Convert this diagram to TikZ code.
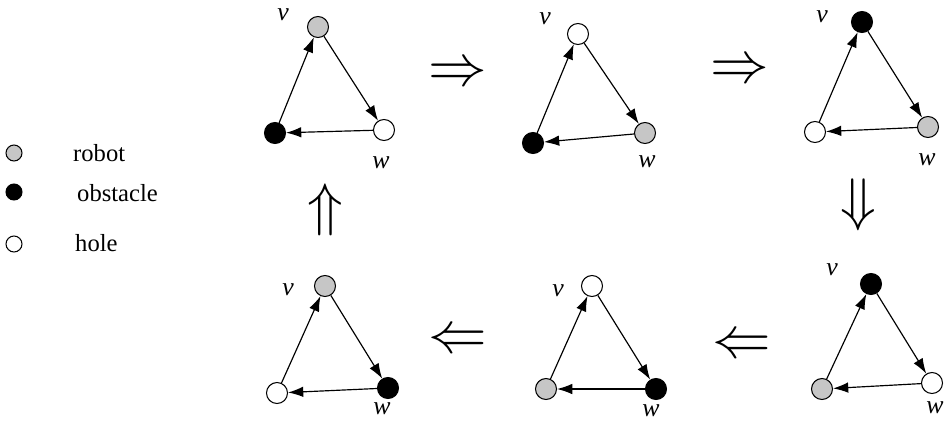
\documentclass[tikz,border=0pt]{standalone}
\usepackage{fontspec}
\setmainfont{Liberation Serif}
\usetikzlibrary{arrows.meta}
\begin{document}
\begin{tikzpicture}[x=0.03cm,y=-0.03cm,
    robot/.style={circle,draw,line width=0.9pt,inner sep=0pt,minimum size=21*0.03cm,fill=gray!45},
    obstacle/.style={circle,draw,line width=0.9pt,inner sep=0pt,minimum size=21*0.03cm,fill=black},
    hole/.style={circle,draw,line width=0.9pt,inner sep=0pt,minimum size=21*0.03cm,fill=white},
    edge/.style={-{Latex[length=13pt,width=9pt]},line width=1pt},
    lab/.style={font=\fontsize{22}{26}\selectfont\itshape},
    txt/.style={font=\fontsize{21}{25}\selectfont,anchor=west,inner sep=0pt},
    bigarrow/.style={scale=5}]
\useasboundingbox (0,0) rectangle (951,439);
% legend
\node[robot,minimum size=16*0.03cm] (lr) at (14,153) {};
\node[obstacle,minimum size=16*0.03cm] (lo) at (14,192) {};
\node[hole,minimum size=16*0.03cm] (lh) at (14,244) {};
\node[txt] (tr) at (73,153) {robot};
\node[txt] (to) at (77,193) {obstacle};
\node[txt] (th) at (75,243) {hole};
% triangles: name, v, bottom-left, w, styles
\foreach \n/\vx/\vy/\bx/\by/\wx/\wy/\sv/\sb/\sw in {
    a/318/27/275/133/384/130/robot/obstacle/hole,
    b/578/34/533/143/645/133/hole/obstacle/robot,
    c/862/22/815/132/928/127/obstacle/hole/robot,
    d/871/284/822/389/932/383/obstacle/robot/hole,
    e/592/286/546/389/656/389/hole/robot/obstacle,
    f/325/286/277/393/388/388/robot/hole/obstacle}{
  \node[\sv] (\n v) at (\vx,\vy) {};
  \node[\sb] (\n b) at (\bx,\by) {};
  \node[\sw] (\n w) at (\wx,\wy) {};
  \draw[edge] (\n b) -- (\n v);
  \draw[edge] (\n v) -- (\n w);
  \draw[edge] (\n w) -- (\n b);
}
% labels
\node[lab] (av) at (283,15) {v};  \node[lab] (aw) at (381,163) {w};
\node[lab] (bv) at (545,19) {v};  \node[lab] (bw) at (647,162) {w};
\node[lab] (cv) at (822,17) {v};  \node[lab] (cw) at (927,160) {w};
\node[lab] (dv) at (832,270) {v}; \node[lab] (dw) at (935,408) {w};
\node[lab] (ev) at (558,291) {v}; \node[lab] (ew) at (651,411) {w};
\node[lab] (fv) at (288,290) {v}; \node[lab] (fw) at (382,409) {w};
% transitions
\node[bigarrow] (s1) at (458,75) {$\Rightarrow$};
\node[bigarrow] (s2) at (740,72) {$\Rightarrow$};
\node[bigarrow] (s3) at (858,205) {$\Downarrow$};
\node[bigarrow] (s4) at (742,347) {$\Leftarrow$};
\node[bigarrow] (s5) at (458,342) {$\Leftarrow$};
\node[bigarrow] (s6) at (325,210) {$\Uparrow$};
\end{tikzpicture}
\end{document}
